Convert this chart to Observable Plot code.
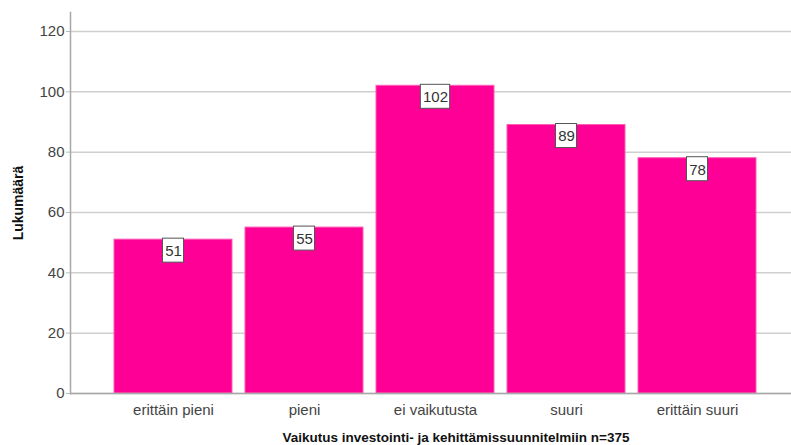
<!DOCTYPE html>
<html><head><meta charset="utf-8">
<script src="https://cdn.jsdelivr.net/npm/d3@7"></script>
<script src="https://cdn.jsdelivr.net/npm/@observablehq/plot@0.6"></script>
<style>body{margin:0;background:#fff;} #chart svg{display:block;}</style>
</head><body><div id="chart"></div>
<script>
const categories = ["erittäin pieni", "pieni", "ei vaikutusta", "suuri", "erittäin suuri"];
const counts = [51, 55, 102, 89, 78];
const yTicks = [0, 20, 40, 60, 80, 100, 120];
const xTitle = "Vaikutus investointi- ja kehittämissuunnitelmiin n=375";
const yTitle = "Lukumäärä";

const data = categories.map((c, i) => ({category: c, value: counts[i], label: String(counts[i])}));

const xRange = [113, 756];
const paddingInner = 0.1;
const bw = (xRange[1] - xRange[0]) / (categories.length - paddingInner) * (1 - paddingInner);
const lengths = Array.from(new Set(data.map(d => d.label.length)));
const boxMarks = lengths.map(n => {
  const boxW = 4.5 + 8.3 * n;
  const inset = (bw - boxW) / 2;
  return Plot.barY(data.filter(d => d.label.length === n), {
    x: "category", y1: "value", y2: "value",
    insetTop: -1, insetBottom: -23, insetLeft: inset, insetRight: inset,
    fill: "#fff", stroke: "#555", strokeWidth: 1
  });
});

const chart = Plot.plot({
  width: 791, height: 445,
  marginLeft: 70, marginRight: 0, marginTop: 12, marginBottom: 52,
  style: {fontFamily: "Arial, 'Liberation Sans', sans-serif", fontSize: "15px", color: "#444", background: "#fff"},
  x: {domain: categories, range: xRange, paddingInner: paddingInner, paddingOuter: 0, label: null},
  y: {domain: [0, 126.3], label: null},
  marks: [
    Plot.gridY(yTicks, {stroke: "#cfcfcf", strokeOpacity: 1, strokeWidth: 1.5}),
    Plot.barY(data, {x: "category", y: "value", fill: "#ff0096", stroke: "#ff5cb8", strokeWidth: 1}),
    ...boxMarks,
    Plot.text(data, {x: "category", y: "value", text: "label", dy: 11.5, lineAnchor: "middle", fill: "#333", fontSize: 15}),
    Plot.frame({anchor: "left", stroke: "#a8a8a8", strokeWidth: 1.5}),
    Plot.frame({anchor: "bottom", stroke: "#a8a8a8", strokeWidth: 1.5}),
    Plot.axisY(yTicks, {tickSize: 4, tickPadding: 2, stroke: "#bbb", fill: "#444", fontSize: 15, label: null}),
    Plot.axisX({tickSize: 0, tickPadding: 11, fill: "#444", fontSize: 15, label: null}),
    Plot.text([yTitle], {frameAnchor: "left", dx: -52, rotate: -90, textAnchor: "middle", lineAnchor: "middle", fontWeight: "bold", fontSize: 14, fill: "#111"}),
    Plot.text([xTitle], {frameAnchor: "bottom", dx: 25, dy: 44, textAnchor: "middle", lineAnchor: "middle", fontWeight: "bold", fontSize: 13.5, fill: "#111"})
  ]
});
document.getElementById("chart").append(chart);
</script>
</body></html>
